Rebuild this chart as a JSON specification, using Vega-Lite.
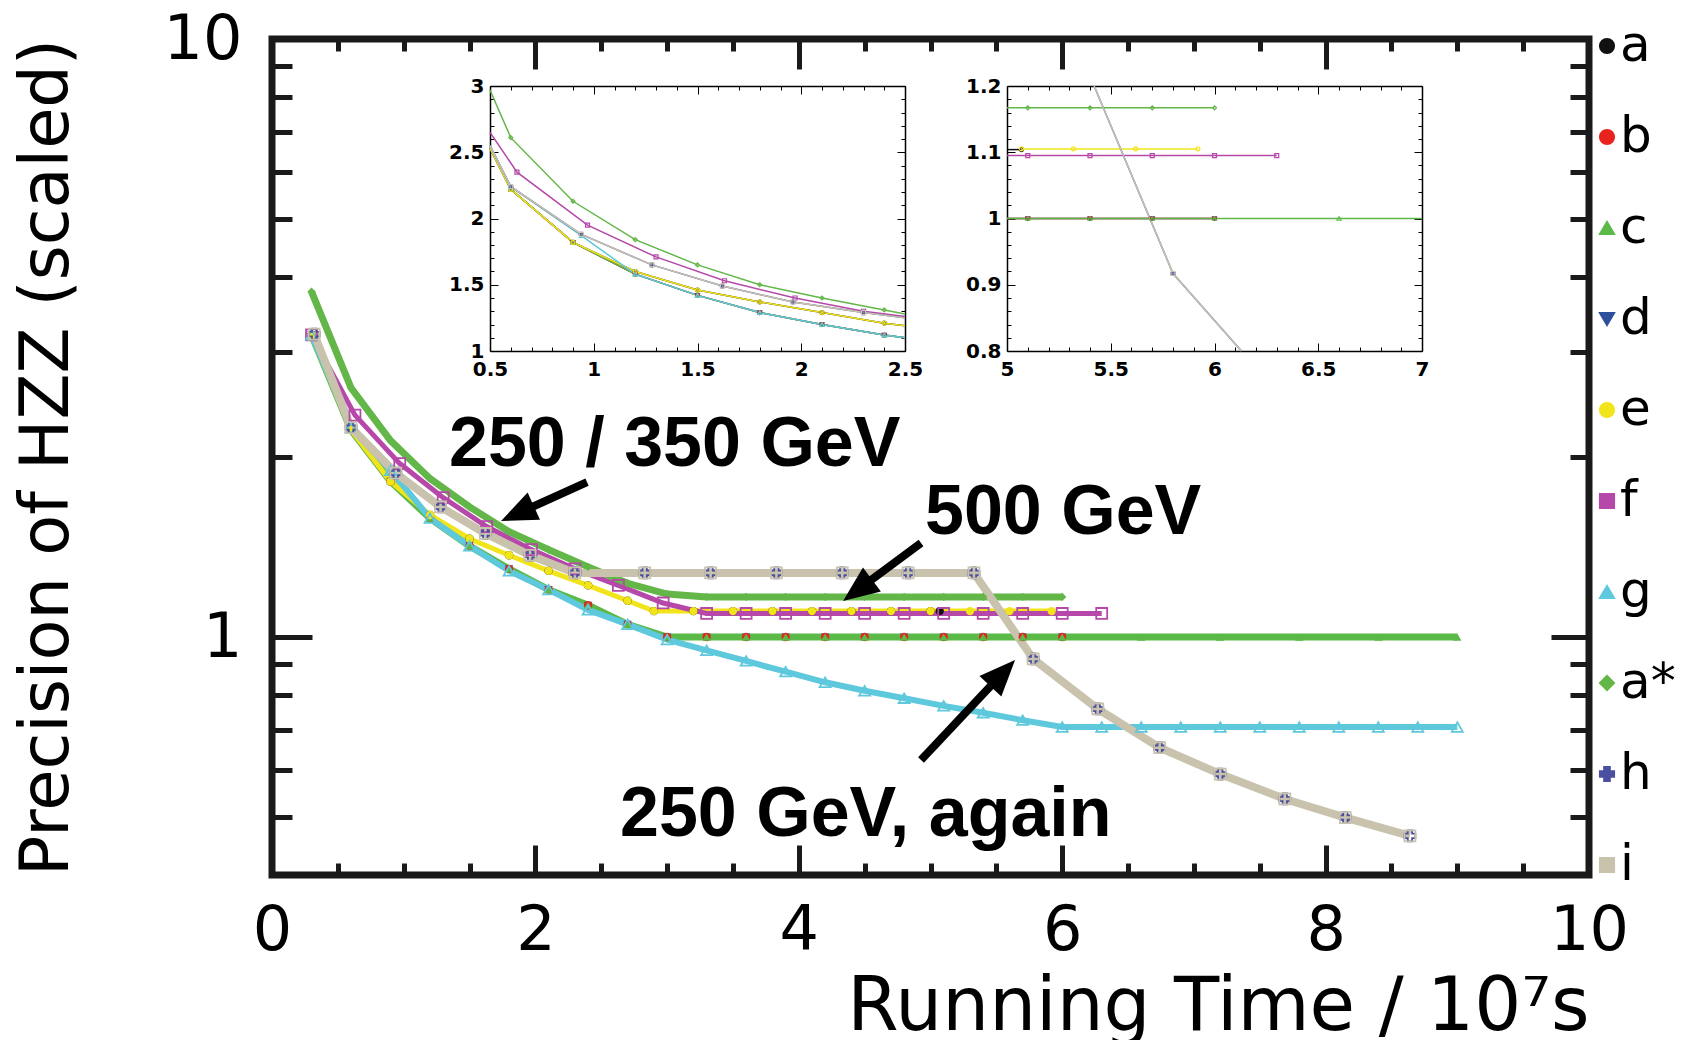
{
  "$schema": "https://vega.github.io/schema/vega-lite/v6.json",
  "background": "white",
  "padding": {"left": 13, "top": 8, "right": 0, "bottom": 0},
  "config": {"view": {"stroke": null}, "font": "DejaVu Sans", "axis": {"grid": false}},
  "datasets": {
    "main": [
      {"s":"d","x":0.3,"y":3.2},{"s":"d","x":0.6,"y":2.22},{"s":"d","x":0.9,"y":1.82},{"s":"d","x":1.2,"y":1.58},{"s":"d","x":1.5,"y":1.42},{"s":"d","x":1.8,"y":1.3},{"s":"d","x":2.1,"y":1.2},{"s":"d","x":2.4,"y":1.13},{"s":"d","x":2.7,"y":1.05},{"s":"d","x":3.0,"y":1.0},{"s":"d","x":3.3,"y":1},{"s":"d","x":3.6,"y":1},{"s":"d","x":3.9,"y":1},{"s":"d","x":4.2,"y":1},{"s":"d","x":4.5,"y":1},{"s":"d","x":4.8,"y":1},{"s":"d","x":5.1,"y":1},{"s":"d","x":5.4,"y":1},{"s":"d","x":5.7,"y":1},{"s":"d","x":6.0,"y":1},
      {"s":"a","x":0.3,"y":3.2},{"s":"a","x":0.6,"y":2.22},{"s":"a","x":0.9,"y":1.82},{"s":"a","x":1.2,"y":1.6},{"s":"a","x":1.5,"y":1.46},{"s":"a","x":1.8,"y":1.37},{"s":"a","x":2.1,"y":1.29},{"s":"a","x":2.4,"y":1.22},{"s":"a","x":2.7,"y":1.15},{"s":"a","x":2.9,"y":1.105},{"s":"a","x":3.2,"y":1.105},{"s":"a","x":3.5,"y":1.105},{"s":"a","x":3.8,"y":1.105},{"s":"a","x":4.1,"y":1.105},{"s":"a","x":4.4,"y":1.105},{"s":"a","x":4.7,"y":1.105},{"s":"a","x":5.0,"y":1.105},{"s":"a","x":5.07,"y":1.105},
      {"s":"b","x":0.3,"y":3.2},{"s":"b","x":0.6,"y":2.22},{"s":"b","x":0.9,"y":1.82},{"s":"b","x":1.2,"y":1.58},{"s":"b","x":1.5,"y":1.42},{"s":"b","x":1.8,"y":1.3},{"s":"b","x":2.1,"y":1.2},{"s":"b","x":2.4,"y":1.13},{"s":"b","x":2.7,"y":1.05},{"s":"b","x":3.0,"y":1.0},{"s":"b","x":3.3,"y":1},{"s":"b","x":3.6,"y":1},{"s":"b","x":3.9,"y":1},{"s":"b","x":4.2,"y":1},{"s":"b","x":4.5,"y":1},{"s":"b","x":4.8,"y":1},{"s":"b","x":5.1,"y":1},{"s":"b","x":5.4,"y":1},{"s":"b","x":5.7,"y":1},{"s":"b","x":6.0,"y":1},
      {"s":"c","x":0.3,"y":3.2},{"s":"c","x":0.6,"y":2.22},{"s":"c","x":0.9,"y":1.82},{"s":"c","x":1.2,"y":1.58},{"s":"c","x":1.5,"y":1.42},{"s":"c","x":1.8,"y":1.3},{"s":"c","x":2.1,"y":1.2},{"s":"c","x":2.4,"y":1.13},{"s":"c","x":2.7,"y":1.05},{"s":"c","x":3.0,"y":1.0},{"s":"c","x":3.3,"y":1},{"s":"c","x":3.6,"y":1},{"s":"c","x":3.9,"y":1},{"s":"c","x":4.2,"y":1},{"s":"c","x":4.5,"y":1},{"s":"c","x":4.8,"y":1},{"s":"c","x":5.1,"y":1},{"s":"c","x":5.4,"y":1},{"s":"c","x":5.7,"y":1},{"s":"c","x":6.0,"y":1},{"s":"c","x":6.6,"y":1},{"s":"c","x":7.2,"y":1},{"s":"c","x":7.8,"y":1},{"s":"c","x":8.4,"y":1},{"s":"c","x":9.0,"y":1},
      {"s":"e","x":0.3,"y":3.2},{"s":"e","x":0.6,"y":2.22},{"s":"e","x":0.9,"y":1.82},{"s":"e","x":1.2,"y":1.6},{"s":"e","x":1.5,"y":1.46},{"s":"e","x":1.8,"y":1.37},{"s":"e","x":2.1,"y":1.29},{"s":"e","x":2.4,"y":1.22},{"s":"e","x":2.7,"y":1.15},{"s":"e","x":2.9,"y":1.105},{"s":"e","x":3.2,"y":1.105},{"s":"e","x":3.5,"y":1.105},{"s":"e","x":3.8,"y":1.105},{"s":"e","x":4.1,"y":1.105},{"s":"e","x":4.4,"y":1.105},{"s":"e","x":4.7,"y":1.105},{"s":"e","x":5.0,"y":1.105},{"s":"e","x":5.3,"y":1.105},{"s":"e","x":5.6,"y":1.105},{"s":"e","x":5.92,"y":1.105},
      {"s":"f","x":0.3,"y":3.2},{"s":"f","x":0.63,"y":2.35},{"s":"f","x":0.97,"y":1.95},{"s":"f","x":1.3,"y":1.71},{"s":"f","x":1.63,"y":1.53},{"s":"f","x":1.97,"y":1.4},{"s":"f","x":2.3,"y":1.3},{"s":"f","x":2.63,"y":1.22},{"s":"f","x":2.97,"y":1.14},{"s":"f","x":3.3,"y":1.095},{"s":"f","x":3.6,"y":1.095},{"s":"f","x":3.9,"y":1.095},{"s":"f","x":4.2,"y":1.095},{"s":"f","x":4.5,"y":1.095},{"s":"f","x":4.8,"y":1.095},{"s":"f","x":5.1,"y":1.095},{"s":"f","x":5.4,"y":1.095},{"s":"f","x":5.7,"y":1.095},{"s":"f","x":6.0,"y":1.095},{"s":"f","x":6.3,"y":1.095},
      {"s":"g","x":0.3,"y":3.2},{"s":"g","x":0.6,"y":2.24},{"s":"g","x":0.9,"y":1.9},{"s":"g","x":1.2,"y":1.58},{"s":"g","x":1.5,"y":1.42},{"s":"g","x":1.8,"y":1.29},{"s":"g","x":2.1,"y":1.2},{"s":"g","x":2.4,"y":1.11},{"s":"g","x":2.7,"y":1.05},{"s":"g","x":3.0,"y":0.99},{"s":"g","x":3.3,"y":0.95},{"s":"g","x":3.6,"y":0.912},{"s":"g","x":3.9,"y":0.875},{"s":"g","x":4.2,"y":0.84},{"s":"g","x":4.5,"y":0.813},{"s":"g","x":4.8,"y":0.79},{"s":"g","x":5.1,"y":0.767},{"s":"g","x":5.4,"y":0.747},{"s":"g","x":5.7,"y":0.726},{"s":"g","x":6.0,"y":0.707},{"s":"g","x":6.3,"y":0.707},{"s":"g","x":6.6,"y":0.707},{"s":"g","x":6.9,"y":0.707},{"s":"g","x":7.2,"y":0.707},{"s":"g","x":7.5,"y":0.707},{"s":"g","x":7.8,"y":0.707},{"s":"g","x":8.1,"y":0.707},{"s":"g","x":8.4,"y":0.707},{"s":"g","x":8.7,"y":0.707},{"s":"g","x":9.0,"y":0.707},
      {"s":"a*","x":0.3,"y":3.78},{"s":"a*","x":0.6,"y":2.61},{"s":"a*","x":0.9,"y":2.13},{"s":"a*","x":1.2,"y":1.84},{"s":"a*","x":1.5,"y":1.65},{"s":"a*","x":1.8,"y":1.5},{"s":"a*","x":2.1,"y":1.4},{"s":"a*","x":2.4,"y":1.31},{"s":"a*","x":2.7,"y":1.23},{"s":"a*","x":3.0,"y":1.18},{"s":"a*","x":3.3,"y":1.167},{"s":"a*","x":3.6,"y":1.167},{"s":"a*","x":3.9,"y":1.167},{"s":"a*","x":4.2,"y":1.167},{"s":"a*","x":4.5,"y":1.167},{"s":"a*","x":4.8,"y":1.167},{"s":"a*","x":5.1,"y":1.167},{"s":"a*","x":5.4,"y":1.167},{"s":"a*","x":5.7,"y":1.167},{"s":"a*","x":6.0,"y":1.167},
      {"s":"h","x":0.32,"y":3.21},{"s":"h","x":0.6,"y":2.24},{"s":"h","x":0.94,"y":1.88},{"s":"h","x":1.28,"y":1.65},{"s":"h","x":1.62,"y":1.49},{"s":"h","x":1.96,"y":1.37},{"s":"h","x":2.3,"y":1.28},{"s":"h","x":2.83,"y":1.28},{"s":"h","x":3.33,"y":1.28},{"s":"h","x":3.83,"y":1.28},{"s":"h","x":4.33,"y":1.28},{"s":"h","x":4.83,"y":1.28},{"s":"h","x":5.33,"y":1.28},{"s":"h","x":5.78,"y":0.919},{"s":"h","x":6.27,"y":0.758},{"s":"h","x":6.74,"y":0.653},{"s":"h","x":7.2,"y":0.59},{"s":"h","x":7.69,"y":0.536},{"s":"h","x":8.15,"y":0.499},{"s":"h","x":8.64,"y":0.465},
      {"s":"i","x":0.32,"y":3.21},{"s":"i","x":0.6,"y":2.24},{"s":"i","x":0.94,"y":1.88},{"s":"i","x":1.28,"y":1.65},{"s":"i","x":1.62,"y":1.49},{"s":"i","x":1.96,"y":1.37},{"s":"i","x":2.3,"y":1.28},{"s":"i","x":2.83,"y":1.28},{"s":"i","x":3.33,"y":1.28},{"s":"i","x":3.83,"y":1.28},{"s":"i","x":4.33,"y":1.28},{"s":"i","x":4.83,"y":1.28},{"s":"i","x":5.33,"y":1.28},{"s":"i","x":5.78,"y":0.919},{"s":"i","x":6.27,"y":0.758},{"s":"i","x":6.74,"y":0.653},{"s":"i","x":7.2,"y":0.59},{"s":"i","x":7.69,"y":0.536},{"s":"i","x":8.15,"y":0.499},{"s":"i","x":8.64,"y":0.465}
    ],
    "inset1": [
      {"s":"d","x":0.5,"y":2.53},{"s":"d","x":0.6,"y":2.22},{"s":"d","x":0.9,"y":1.82},{"s":"d","x":1.2,"y":1.58},{"s":"d","x":1.5,"y":1.42},{"s":"d","x":1.8,"y":1.29},{"s":"d","x":2.1,"y":1.2},{"s":"d","x":2.4,"y":1.12},{"s":"d","x":2.5,"y":1.1},
      {"s":"a","x":0.5,"y":2.53},{"s":"a","x":0.6,"y":2.22},{"s":"a","x":0.9,"y":1.82},{"s":"a","x":1.2,"y":1.6},{"s":"a","x":1.5,"y":1.46},{"s":"a","x":1.8,"y":1.37},{"s":"a","x":2.1,"y":1.29},{"s":"a","x":2.4,"y":1.21},{"s":"a","x":2.5,"y":1.19},
      {"s":"b","x":0.5,"y":2.53},{"s":"b","x":0.6,"y":2.22},{"s":"b","x":0.9,"y":1.82},{"s":"b","x":1.2,"y":1.58},{"s":"b","x":1.5,"y":1.42},{"s":"b","x":1.8,"y":1.29},{"s":"b","x":2.1,"y":1.2},{"s":"b","x":2.4,"y":1.12},{"s":"b","x":2.5,"y":1.1},
      {"s":"c","x":0.5,"y":2.53},{"s":"c","x":0.6,"y":2.22},{"s":"c","x":0.9,"y":1.82},{"s":"c","x":1.2,"y":1.58},{"s":"c","x":1.5,"y":1.42},{"s":"c","x":1.8,"y":1.29},{"s":"c","x":2.1,"y":1.2},{"s":"c","x":2.4,"y":1.12},{"s":"c","x":2.5,"y":1.1},
      {"s":"e","x":0.5,"y":2.53},{"s":"e","x":0.6,"y":2.22},{"s":"e","x":0.9,"y":1.82},{"s":"e","x":1.2,"y":1.6},{"s":"e","x":1.5,"y":1.46},{"s":"e","x":1.8,"y":1.37},{"s":"e","x":2.1,"y":1.29},{"s":"e","x":2.4,"y":1.21},{"s":"e","x":2.5,"y":1.19},
      {"s":"f","x":0.5,"y":2.65},{"s":"f","x":0.63,"y":2.35},{"s":"f","x":0.97,"y":1.95},{"s":"f","x":1.3,"y":1.71},{"s":"f","x":1.63,"y":1.53},{"s":"f","x":1.97,"y":1.4},{"s":"f","x":2.3,"y":1.3},{"s":"f","x":2.5,"y":1.26},
      {"s":"g","x":0.5,"y":2.55},{"s":"g","x":0.6,"y":2.24},{"s":"g","x":0.94,"y":1.87},{"s":"g","x":1.2,"y":1.58},{"s":"g","x":1.5,"y":1.42},{"s":"g","x":1.8,"y":1.29},{"s":"g","x":2.1,"y":1.2},{"s":"g","x":2.4,"y":1.12},{"s":"g","x":2.5,"y":1.1},
      {"s":"a*","x":0.5,"y":2.97},{"s":"a*","x":0.6,"y":2.61},{"s":"a*","x":0.9,"y":2.13},{"s":"a*","x":1.2,"y":1.84},{"s":"a*","x":1.5,"y":1.65},{"s":"a*","x":1.8,"y":1.5},{"s":"a*","x":2.1,"y":1.4},{"s":"a*","x":2.4,"y":1.31},{"s":"a*","x":2.5,"y":1.28},
      {"s":"h","x":0.5,"y":2.55},{"s":"h","x":0.6,"y":2.24},{"s":"h","x":0.94,"y":1.88},{"s":"h","x":1.28,"y":1.65},{"s":"h","x":1.62,"y":1.49},{"s":"h","x":1.96,"y":1.37},{"s":"h","x":2.3,"y":1.29},{"s":"h","x":2.5,"y":1.25},
      {"s":"i","x":0.5,"y":2.55},{"s":"i","x":0.6,"y":2.24},{"s":"i","x":0.94,"y":1.88},{"s":"i","x":1.28,"y":1.65},{"s":"i","x":1.62,"y":1.49},{"s":"i","x":1.96,"y":1.37},{"s":"i","x":2.3,"y":1.29},{"s":"i","x":2.5,"y":1.25}
    ],
    "inset2": [
      {"s":"d","x":5.0,"y":1},{"s":"d","x":5.1,"y":1},{"s":"d","x":5.4,"y":1},{"s":"d","x":5.7,"y":1},{"s":"d","x":6.0,"y":1},
      {"s":"a","x":5.0,"y":1.104},{"s":"a","x":5.07,"y":1.104},
      {"s":"b","x":5.0,"y":1},{"s":"b","x":5.1,"y":1},{"s":"b","x":5.4,"y":1},{"s":"b","x":5.7,"y":1},{"s":"b","x":6.0,"y":1},
      {"s":"c","x":5.0,"y":1},{"s":"c","x":5.1,"y":1},{"s":"c","x":5.4,"y":1},{"s":"c","x":5.7,"y":1},{"s":"c","x":6.0,"y":1},{"s":"c","x":6.6,"y":1},{"s":"c","x":7.0,"y":1},
      {"s":"e","x":5.07,"y":1.105},{"s":"e","x":5.32,"y":1.105},{"s":"e","x":5.62,"y":1.105},{"s":"e","x":5.92,"y":1.105},
      {"s":"f","x":5.0,"y":1.095},{"s":"f","x":5.1,"y":1.095},{"s":"f","x":5.4,"y":1.095},{"s":"f","x":5.7,"y":1.095},{"s":"f","x":6.0,"y":1.095},{"s":"f","x":6.3,"y":1.095},
      {"s":"a*","x":5.0,"y":1.167},{"s":"a*","x":5.1,"y":1.167},{"s":"a*","x":5.4,"y":1.167},{"s":"a*","x":5.7,"y":1.167},{"s":"a*","x":6.0,"y":1.167},
      {"s":"h","x":5.42,"y":1.2},{"s":"h","x":5.8,"y":0.917},{"s":"h","x":6.13,"y":0.8},
      {"s":"i","x":5.42,"y":1.2},{"s":"i","x":5.8,"y":0.917},{"s":"i","x":6.13,"y":0.8}
    ],
    "notes": [
      {"label":"250 / 350 GeV","x":1.344,"y":1.932},
      {"label":"500 GeV","x":4.958,"y":1.487},
      {"label":"250 GeV, again","x":2.642,"y":0.4647}
    ],
    "shafts": [
      {"x":2.392,"y":1.816,"x2":1.875,"y2":1.612},
      {"x":4.928,"y":1.436,"x2":4.457,"y2":1.203},
      {"x":4.928,"y":0.6226,"x2":5.535,"y2":0.8639}
    ],
    "heads": [
      {"id":1,"x":1.739,"y":1.563},
      {"id":2,"x":4.336,"y":1.149},
      {"id":3,"x":5.642,"y":0.9153}
    ]
  },
  "width": 1317,
  "height": 836,
  "view": {"stroke": "#1a1a1a", "strokeWidth": 7},
  "resolve": {"scale": {"x": "independent", "y": "independent"}},
  "layer": [
    {
      "resolve": {"axis": {"x": "independent", "y": "independent"}},
      "layer": [
        {
          "data": {"name": "main"},
          "mark": {"type": "point", "filled": true, "opacity": 0},
          "encoding": {
            "x": {"field": "x", "type": "quantitative", "scale": {"domain": [0, 10], "nice": false, "zero": false},
              "axis": {"orient": "bottom", "values": [0,0.5,1,1.5,2,2.5,3,3.5,4,4.5,5,5.5,6,6.5,7,7.5,8,8.5,9,9.5,10], "domain": false, "tickColor": "#1a1a1a", "tickWidth": 5,
                "tickSize": {"condition": {"test": "datum.value % 2 === 0", "value": -30}, "value": -12},
                "format": "~g", "labelExpr": "datum.value % 2 === 0 ? datum.label : ''", "labelFont": "DejaVu Sans", "labelFontSize": 62, "labelColor": "black", "labelPadding": 55, "labelFlush": false, "labelOverlap": false,
                "title": "Running Time / 10⁷s", "titleFont": "DejaVu Sans", "titleFontSize": 74, "titleFontWeight": "normal", "titleColor": "black", "titleAnchor": "end", "titlePadding": -8}},
            "y": {"field": "y", "type": "quantitative", "scale": {"type": "log", "domain": [0.4, 10], "nice": false},
              "axis": {"orient": "left", "values": [0.5,0.6,0.7,0.8,0.9,1,2,3,4,5,6,7,8,9,10], "domain": false, "tickColor": "#1a1a1a", "tickWidth": 5,
                "tickSize": {"condition": {"test": "datum.value === 1 || datum.value === 10", "value": -40}, "value": -20},
                "labelExpr": "datum.value === 1 ? '1' : datum.value === 10 ? '10' : ''", "labelFont": "DejaVu Sans", "labelFontSize": 62, "labelColor": "black", "labelPadding": 70, "labelOverlap": false,
                "title": "Precision of HZZ (scaled)", "titleFont": "DejaVu Sans", "titleFontSize": 67, "titleFontWeight": "normal", "titleColor": "black", "titlePadding": 82}},
            "color": {"field": "s", "type": "nominal", "scale": {"domain": ["a","b","c","d","e","f","g","a*","h","i"], "range": ["#111111","#e8231d","#5bb947","#2d4f9e","#f2e41a","#b548a8","#5ec8dc","#63b648","#4b4fa0","#c9c3ae"]},
              "legend": {"orient": "none", "legendX": 1310, "legendY": -18, "title": null, "labelFont": "DejaVu Sans", "labelFontSize": 50, "labelColor": "black", "rowPadding": 41, "symbolSize": 200, "symbolOpacity": 1, "labelOffset": -12, "padding": 0, "symbolStrokeWidth": 2}},
            "shape": {"field": "s", "type": "nominal", "scale": {"domain": ["a","b","c","d","e","f","g","a*","h","i"], "range": ["circle","circle","triangle-up","triangle-down","circle","square","triangle-up","diamond","cross","square"]},
              "legend": {"orient": "none", "legendX": 1310, "legendY": -18, "title": null, "labelFont": "DejaVu Sans", "labelFontSize": 50, "labelColor": "black", "rowPadding": 41, "symbolSize": 200, "symbolOpacity": 1, "labelOffset": -12, "padding": 0, "symbolStrokeWidth": 2}}
          }
        },
        {
          "data": {"name": "main"},
          "transform": [{"filter": {"field": "s", "oneOf": ["d","a","b"]}}],
          "mark": {"type": "line", "strokeWidth": 3},
          "encoding": {"x": {"field": "x", "type": "quantitative", "axis": null}, "y": {"field": "y", "type": "quantitative", "axis": null}, "color": {"field": "s", "type": "nominal"}}
        },
        {
          "data": {"name": "main"},
          "transform": [{"filter": {"field": "s", "oneOf": ["c"]}}],
          "mark": {"type": "line", "strokeWidth": 7},
          "encoding": {"x": {"field": "x", "type": "quantitative", "axis": null}, "y": {"field": "y", "type": "quantitative", "axis": null}, "color": {"field": "s", "type": "nominal"}}
        },
        {
          "data": {"name": "main"},
          "transform": [{"filter": {"field": "s", "oneOf": ["e","f"]}}],
          "mark": {"type": "line", "strokeWidth": 5},
          "encoding": {"x": {"field": "x", "type": "quantitative", "axis": null}, "y": {"field": "y", "type": "quantitative", "axis": null}, "color": {"field": "s", "type": "nominal"}}
        },
        {
          "data": {"name": "main"},
          "transform": [{"filter": {"field": "s", "oneOf": ["g"]}}],
          "mark": {"type": "line", "strokeWidth": 6},
          "encoding": {"x": {"field": "x", "type": "quantitative", "axis": null}, "y": {"field": "y", "type": "quantitative", "axis": null}, "color": {"field": "s", "type": "nominal"}}
        },
        {
          "data": {"name": "main"},
          "transform": [{"filter": {"field": "s", "oneOf": ["a*"]}}],
          "mark": {"type": "line", "strokeWidth": 7},
          "encoding": {"x": {"field": "x", "type": "quantitative", "axis": null}, "y": {"field": "y", "type": "quantitative", "axis": null}, "color": {"field": "s", "type": "nominal"}}
        },
        {
          "data": {"name": "main"},
          "transform": [{"filter": {"field": "s", "oneOf": ["h"]}}],
          "mark": {"type": "line", "strokeWidth": 1.5},
          "encoding": {"x": {"field": "x", "type": "quantitative", "axis": null}, "y": {"field": "y", "type": "quantitative", "axis": null}, "color": {"field": "s", "type": "nominal"}}
        },
        {
          "data": {"name": "main"},
          "transform": [{"filter": {"field": "s", "oneOf": ["i"]}}],
          "mark": {"type": "line", "strokeWidth": 8},
          "encoding": {"x": {"field": "x", "type": "quantitative", "axis": null}, "y": {"field": "y", "type": "quantitative", "axis": null}, "color": {"field": "s", "type": "nominal"}}
        },
        {
          "data": {"name": "main"},
          "transform": [{"filter": {"field": "s", "oneOf": ["a","b","c","d","e","a*"]}}],
          "mark": {"type": "point", "filled": true, "opacity": 1, "size": 70},
          "encoding": {
            "x": {"field": "x", "type": "quantitative",
              "axis": {"orient": "top", "values": [0,0.5,1,1.5,2,2.5,3,3.5,4,4.5,5,5.5,6,6.5,7,7.5,8,8.5,9,9.5,10], "domain": false, "tickColor": "#1a1a1a", "tickWidth": 5,
                "tickSize": {"condition": {"test": "datum.value % 2 === 0", "value": -30}, "value": -12}, "labels": false, "title": null}},
            "y": {"field": "y", "type": "quantitative",
              "axis": {"orient": "right", "values": [0.5,0.6,0.7,0.8,0.9,1,2,3,4,5,6,7,8,9,10], "domain": false, "tickColor": "#1a1a1a", "tickWidth": 5,
                "tickSize": {"condition": {"test": "datum.value === 1 || datum.value === 10", "value": -38}, "value": -19}, "labels": false, "title": null}},
            "color": {"field": "s", "type": "nominal"},
            "shape": {"field": "s", "type": "nominal"}
          }
        },
        {
          "data": {"name": "main"},
          "transform": [{"filter": {"field": "s", "oneOf": ["f","g","h","i"]}}],
          "mark": {"type": "point", "filled": false, "strokeWidth": 1.8, "opacity": 1, "size": 120},
          "encoding": {
            "x": {"field": "x", "type": "quantitative", "axis": null},
            "y": {"field": "y", "type": "quantitative", "axis": null},
            "color": {"field": "s", "type": "nominal"},
            "shape": {"field": "s", "type": "nominal"}
          }
        },
        {
          "data": {"name": "shafts"},
          "mark": {"type": "rule", "color": "black", "strokeWidth": 8, "strokeCap": "butt"},
          "encoding": {
            "x": {"field": "x", "type": "quantitative", "axis": null},
            "y": {"field": "y", "type": "quantitative", "axis": null},
            "x2": {"field": "x2"},
            "y2": {"field": "y2"}
          }
        },
        {
          "data": {"name": "heads"},
          "transform": [{"filter": "datum.id === 1"}],
          "mark": {"type": "point", "shape": "M0,0 L0.75,1.8 L-0.75,1.8 Z", "size": 1600, "angle": 245.6, "filled": true, "color": "black", "opacity": 1},
          "encoding": {"x": {"field": "x", "type": "quantitative", "axis": null}, "y": {"field": "y", "type": "quantitative", "axis": null}}
        },
        {
          "data": {"name": "heads"},
          "transform": [{"filter": "datum.id === 2"}],
          "mark": {"type": "point", "shape": "M0,0 L0.75,1.8 L-0.75,1.8 Z", "size": 1600, "angle": 233.3, "filled": true, "color": "black", "opacity": 1},
          "encoding": {"x": {"field": "x", "type": "quantitative", "axis": null}, "y": {"field": "y", "type": "quantitative", "axis": null}}
        },
        {
          "data": {"name": "heads"},
          "transform": [{"filter": "datum.id === 3"}],
          "mark": {"type": "point", "shape": "M0,0 L0.75,1.8 L-0.75,1.8 Z", "size": 1600, "angle": 43.2, "filled": true, "color": "black", "opacity": 1},
          "encoding": {"x": {"field": "x", "type": "quantitative", "axis": null}, "y": {"field": "y", "type": "quantitative", "axis": null}}
        },
        {
          "data": {"name": "notes"},
          "mark": {"type": "text", "align": "left", "baseline": "alphabetic", "font": "Liberation Sans", "fontWeight": "bold", "fontSize": 70, "color": "black"},
          "encoding": {
            "x": {"field": "x", "type": "quantitative", "axis": null},
            "y": {"field": "y", "type": "quantitative", "axis": null},
            "text": {"field": "label"}
          }
        }
      ]
    },
    {
      "resolve": {"axis": {"x": "independent", "y": "independent"}},
      "layer": [
        {
          "data": {"name": "inset1"},
          "mark": {"type": "line", "strokeWidth": 1.5},
          "encoding": {
            "x": {"field": "x", "type": "quantitative", "scale": {"domain": [0.5, 2.5], "range": [218, 633], "nice": false, "zero": false},
              "axis": {"orient": "bottom", "offset": -524, "values": [0.5,0.6,0.7,0.8,0.9,1,1.1,1.2,1.3,1.4,1.5,1.6,1.7,1.8,1.9,2,2.1,2.2,2.3,2.4,2.5], "domain": true, "domainColor": "black", "domainWidth": 1.5, "tickColor": "black", "tickWidth": 1,
                "tickSize": {"condition": {"test": "abs(datum.value*2-round(datum.value*2)) < 0.001", "value": -8}, "value": -4},
                "format": "~g", "labelExpr": "abs(datum.value*2-round(datum.value*2)) < 0.001 ? datum.label : ''", "labelFont": "DejaVu Sans", "labelFontWeight": "bold", "labelFontSize": 20, "labelColor": "black", "labelPadding": 16, "labelFlush": false, "labelOverlap": false, "title": null}},
            "y": {"field": "y", "type": "quantitative", "scale": {"domain": [1, 3], "range": [312, 47], "nice": false, "zero": false},
              "axis": {"orient": "left", "offset": -218, "values": [1,1.1,1.2,1.3,1.4,1.5,1.6,1.7,1.8,1.9,2,2.1,2.2,2.3,2.4,2.5,2.6,2.7,2.8,2.9,3], "domain": true, "domainColor": "black", "domainWidth": 1.5, "tickColor": "black", "tickWidth": 1,
                "tickSize": {"condition": {"test": "abs(datum.value*2-round(datum.value*2)) < 0.001", "value": -8}, "value": -4},
                "format": "~g", "labelExpr": "abs(datum.value*2-round(datum.value*2)) < 0.001 ? datum.label : ''", "labelFont": "DejaVu Sans", "labelFontWeight": "bold", "labelFontSize": 20, "labelColor": "black", "labelPadding": 14, "labelOverlap": false, "title": null}},
            "color": {"field": "s", "type": "nominal", "legend": null}
          }
        },
        {
          "data": {"name": "inset1"},
          "transform": [{"filter": "datum.x > 0.5 && datum.x < 2.5"}],
          "mark": {"type": "point", "filled": false, "size": 16, "strokeWidth": 1.2, "opacity": 1},
          "encoding": {
            "x": {"field": "x", "type": "quantitative",
              "axis": {"orient": "top", "offset": -47, "values": [0.5,0.6,0.7,0.8,0.9,1,1.1,1.2,1.3,1.4,1.5,1.6,1.7,1.8,1.9,2,2.1,2.2,2.3,2.4,2.5], "domain": true, "domainColor": "black", "domainWidth": 1.5, "tickColor": "black", "tickWidth": 1,
                "tickSize": {"condition": {"test": "abs(datum.value*2-round(datum.value*2)) < 0.001", "value": -8}, "value": -4}, "labels": false, "title": null}},
            "y": {"field": "y", "type": "quantitative",
              "axis": {"orient": "right", "offset": -684, "values": [1,1.1,1.2,1.3,1.4,1.5,1.6,1.7,1.8,1.9,2,2.1,2.2,2.3,2.4,2.5,2.6,2.7,2.8,2.9,3], "domain": true, "domainColor": "black", "domainWidth": 1.5, "tickColor": "black", "tickWidth": 1,
                "tickSize": {"condition": {"test": "abs(datum.value*2-round(datum.value*2)) < 0.001", "value": -8}, "value": -4}, "labels": false, "title": null}},
            "color": {"field": "s", "type": "nominal", "legend": null},
            "shape": {"field": "s", "type": "nominal", "legend": null}
          }
        }
      ]
    },
    {
      "resolve": {"axis": {"x": "independent", "y": "independent"}},
      "layer": [
        {
          "data": {"name": "inset2"},
          "mark": {"type": "line", "strokeWidth": 1.5},
          "encoding": {
            "x": {"field": "x", "type": "quantitative", "scale": {"domain": [5, 7], "range": [735, 1150], "nice": false, "zero": false},
              "axis": {"orient": "bottom", "offset": -524, "values": [5,5.1,5.2,5.3,5.4,5.5,5.6,5.7,5.8,5.9,6,6.1,6.2,6.3,6.4,6.5,6.6,6.7,6.8,6.9,7], "domain": true, "domainColor": "black", "domainWidth": 1.5, "tickColor": "black", "tickWidth": 1,
                "tickSize": {"condition": {"test": "abs(datum.value*2-round(datum.value*2)) < 0.001", "value": -8}, "value": -4},
                "format": "~g", "labelExpr": "abs(datum.value*2-round(datum.value*2)) < 0.001 ? datum.label : ''", "labelFont": "DejaVu Sans", "labelFontWeight": "bold", "labelFontSize": 20, "labelColor": "black", "labelPadding": 16, "labelFlush": false, "labelOverlap": false, "title": null}},
            "y": {"field": "y", "type": "quantitative", "scale": {"domain": [0.8, 1.2], "range": [312, 47], "nice": false, "zero": false},
              "axis": {"orient": "left", "offset": -735, "values": [0.8,0.82,0.84,0.86,0.88,0.9,0.92,0.94,0.96,0.98,1,1.02,1.04,1.06,1.08,1.1,1.12,1.14,1.16,1.18,1.2], "domain": true, "domainColor": "black", "domainWidth": 1.5, "tickColor": "black", "tickWidth": 1,
                "tickSize": {"condition": {"test": "abs(datum.value*10-round(datum.value*10)) < 0.001", "value": -8}, "value": -4},
                "format": "~g", "labelExpr": "abs(datum.value*10-round(datum.value*10)) < 0.001 ? datum.label : ''", "labelFont": "DejaVu Sans", "labelFontWeight": "bold", "labelFontSize": 20, "labelColor": "black", "labelPadding": 14, "labelOverlap": false, "title": null}},
            "color": {"field": "s", "type": "nominal", "legend": null}
          }
        },
        {
          "data": {"name": "inset2"},
          "transform": [{"filter": "datum.x > 5 && datum.x < 7 && datum.y > 0.8 && datum.y < 1.2"}],
          "mark": {"type": "point", "filled": false, "size": 16, "strokeWidth": 1.2, "opacity": 1},
          "encoding": {
            "x": {"field": "x", "type": "quantitative",
              "axis": {"orient": "top", "offset": -47, "values": [5,5.1,5.2,5.3,5.4,5.5,5.6,5.7,5.8,5.9,6,6.1,6.2,6.3,6.4,6.5,6.6,6.7,6.8,6.9,7], "domain": true, "domainColor": "black", "domainWidth": 1.5, "tickColor": "black", "tickWidth": 1,
                "tickSize": {"condition": {"test": "abs(datum.value*2-round(datum.value*2)) < 0.001", "value": -8}, "value": -4}, "labels": false, "title": null}},
            "y": {"field": "y", "type": "quantitative",
              "axis": {"orient": "right", "offset": -167, "values": [0.8,0.82,0.84,0.86,0.88,0.9,0.92,0.94,0.96,0.98,1,1.02,1.04,1.06,1.08,1.1,1.12,1.14,1.16,1.18,1.2], "domain": true, "domainColor": "black", "domainWidth": 1.5, "tickColor": "black", "tickWidth": 1,
                "tickSize": {"condition": {"test": "abs(datum.value*10-round(datum.value*10)) < 0.001", "value": -8}, "value": -4}, "labels": false, "title": null}},
            "color": {"field": "s", "type": "nominal", "legend": null},
            "shape": {"field": "s", "type": "nominal", "legend": null}
          }
        }
      ]
    }
  ]
}
